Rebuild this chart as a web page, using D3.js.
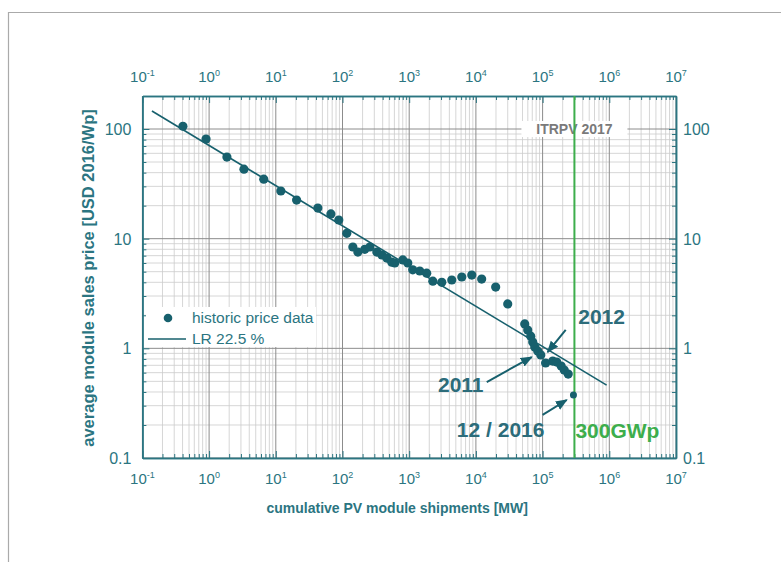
<!DOCTYPE html>
<html>
<head>
<meta charset="utf-8">
<script src="https://cdn.jsdelivr.net/npm/d3@7"></script>
<style>
  body { margin: 0; background: #fff; }
  svg { display: block; font-family: "Liberation Sans", Arial, sans-serif; }
</style>
</head>
<body>
<div id="chart"></div>
<script>
// historic price data (MW, USD 2016/Wp)
var shipments = [0.405, 0.9, 1.85, 3.33, 6.6, 11.9, 20.5, 42.7, 67, 88, 116, 143, 170, 216, 257, 327,
  389, 462, 548, 608, 802, 953, 1130, 1440, 1830, 2260, 3080, 4350, 6140, 8670, 12200, 19800,
  30000, 54000, 59800, 66400, 71100, 76200, 84500, 94000, 111000, 142000, 163000, 190000, 211000, 242000];
var prices = [106, 81, 55.5, 43, 34.9, 27.2, 22.5, 19.0, 16.8, 14.8, 11.2, 8.4, 7.55, 8.0, 8.4, 7.55,
  7.1, 6.65, 6.1, 6.0, 6.4, 6.0, 5.2, 5.07, 4.85, 4.1, 4.0, 4.2, 4.47, 4.66, 4.28, 3.62,
  2.54, 1.67, 1.47, 1.29, 1.14, 1.03, 0.945, 0.87, 0.735, 0.766, 0.75, 0.69, 0.634, 0.583];
var lastPoint = [290000, 0.375];

// learning rate line (two ends)
var lrX = [0.139, 912000];
var lrY = [146, 0.462];

var decadesX = [0.1, 1, 10, 100, 1000, 10000, 100000, 1000000, 10000000];
var exponentsX = ['-1', '0', '1', '2', '3', '4', '5', '6', '7'];
var ticksY = [0.1, 1, 10, 100];
var tickLabelsY = ['0.1', '1', '10', '100'];

var marker300 = 300000;

var notes = [
  { text: '2012', tx: 767000, ty: 1.93, x1: 222000, y1: 1.47, x2: 119000, y2: 0.925 },
  { text: '2011', tx: 5930, ty: 0.463, x1: 14550, y1: 0.493, x2: 68700, y2: 0.833 },
  { text: '12 / 2016', tx: 23500, ty: 0.18, x1: 100000, y1: 0.247, x2: 230000, y2: 0.338 }
];

var teal = '#2b7581',
    dotColor = '#17606d',
    green = '#3dae4c';

var width = 781, height = 562;
var pLeft = 142.4, pRight = 676, pTop = 96, pBottom = 458;

var svg = d3.select('#chart').append('svg')
  .attr('width', width)
  .attr('height', height);

// page frame
svg.append('line').attr('x1', 8.5).attr('x2', 8.5).attr('y1', 12).attr('y2', height)
  .attr('stroke', '#aaa').attr('stroke-width', 1.2);
svg.append('line').attr('x1', 8).attr('x2', width).attr('y1', 12.5).attr('y2', 12.5)
  .attr('stroke', '#aaa').attr('stroke-width', 1.2);

var x = d3.scaleLog().domain([0.1, 1e7]).range([pLeft, pRight]);
var y = d3.scaleLog().domain([0.1, 200]).range([pBottom, pTop]);

var minorX = [];
for (var e = -1; e < 7; e++) {
  for (var k = 2; k <= 9; k++) minorX.push(k * Math.pow(10, e));
}
var minorY = [];
for (var e2 = -1; e2 < 3; e2++) {
  for (var k2 = 2; k2 <= 9; k2++) {
    var v = k2 * Math.pow(10, e2);
    if (v < 200) minorY.push(v);
  }
}

var grid = svg.append('g');
grid.selectAll('.mx').data(minorX).enter().append('line')
  .attr('x1', function(d) { return x(d); }).attr('x2', function(d) { return x(d); })
  .attr('y1', pTop).attr('y2', pBottom)
  .attr('stroke', '#cccccc').attr('stroke-width', 0.8);
grid.selectAll('.my').data(minorY).enter().append('line')
  .attr('y1', function(d) { return y(d); }).attr('y2', function(d) { return y(d); })
  .attr('x1', pLeft).attr('x2', pRight)
  .attr('stroke', '#cccccc').attr('stroke-width', 0.8);
grid.selectAll('.Mx').data(decadesX).enter().append('line')
  .attr('x1', function(d) { return x(d); }).attr('x2', function(d) { return x(d); })
  .attr('y1', pTop).attr('y2', pBottom)
  .attr('stroke', '#8c8c8c').attr('stroke-width', 1);
grid.selectAll('.My').data(ticksY).enter().append('line')
  .attr('y1', function(d) { return y(d); }).attr('y2', function(d) { return y(d); })
  .attr('x1', pLeft).attr('x2', pRight)
  .attr('stroke', '#8c8c8c').attr('stroke-width', 1);

// axes, ticks pointing inwards
function styleAxis(g) {
  g.select('.domain').attr('stroke', teal).attr('stroke-width', 1.5);
  g.selectAll('.tick line').attr('stroke', teal).attr('stroke-width', 1);
  g.selectAll('.tick text').remove();
}
var sides = [
  { axis: d3.axisBottom(x), tr: 'translate(0,' + pBottom + ')', major: decadesX, minor: minorX },
  { axis: d3.axisTop(x), tr: 'translate(0,' + pTop + ')', major: decadesX, minor: minorX },
  { axis: d3.axisLeft(y), tr: 'translate(' + pLeft + ',0)', major: ticksY, minor: minorY },
  { axis: d3.axisRight(y), tr: 'translate(' + pRight + ',0)', major: ticksY, minor: minorY }
];
sides.forEach(function(s) {
  svg.append('g').attr('transform', s.tr)
    .call(s.axis.tickValues(s.minor).tickSize(-4).tickSizeOuter(0))
    .call(styleAxis);
  svg.append('g').attr('transform', s.tr)
    .call(s.axis.tickValues(s.major).tickSize(-7).tickSizeOuter(0))
    .call(styleAxis);
});

// x labels as powers of ten, top and bottom
[82, 484].forEach(function(base) {
  var t = svg.append('g').selectAll('text').data(decadesX).enter().append('text')
    .attr('x', function(d) { return x(d); })
    .attr('y', base)
    .attr('text-anchor', 'middle')
    .attr('fill', teal)
    .attr('font-size', 15);
  t.append('tspan').text('10');
  t.append('tspan').attr('dy', -6).attr('font-size', 9)
    .text(function(d, i) { return exponentsX[i]; });
});

svg.append('g').selectAll('text').data(ticksY).enter().append('text')
  .attr('x', pLeft - 11).attr('y', function(d) { return y(d) + 6; })
  .attr('text-anchor', 'end').attr('fill', teal).attr('font-size', 16)
  .text(function(d, i) { return tickLabelsY[i]; });
svg.append('g').selectAll('text').data(ticksY).enter().append('text')
  .attr('x', pRight + 7).attr('y', function(d) { return y(d) + 6; })
  .attr('text-anchor', 'start').attr('fill', teal).attr('font-size', 16)
  .text(function(d, i) { return tickLabelsY[i]; });

// axis titles
svg.append('text')
  .attr('x', (pLeft + pRight) / 2 - 12).attr('y', 513)
  .attr('text-anchor', 'middle').attr('fill', teal)
  .attr('font-size', 14).attr('font-weight', 'bold')
  .text('cumulative PV module shipments [MW]');
svg.append('text')
  .attr('transform', 'translate(94,' + 278 + ') rotate(-90)')
  .attr('text-anchor', 'middle').attr('fill', teal)
  .attr('font-size', 16.5).attr('font-weight', 'bold')
  .text('average module sales price [USD 2016/Wp]');

// ITRPV label on the 100 line
svg.append('rect')
  .attr('x', x(marker300) - 53).attr('y', y(100) - 8)
  .attr('width', 106).attr('height', 16).attr('fill', '#fff');
svg.append('text')
  .attr('x', x(marker300)).attr('y', y(100) + 5)
  .attr('text-anchor', 'middle').attr('fill', '#7a7a7a')
  .attr('font-size', 14).attr('font-weight', 'bold')
  .text('ITRPV 2017');

// legend
svg.append('rect').attr('x', 146).attr('y', 307).attr('width', 170).attr('height', 40).attr('fill', '#fff');
svg.append('circle').attr('cx', 168).attr('cy', 318).attr('r', 4.3).attr('fill', dotColor);
svg.append('text').attr('x', 192).attr('y', 323).attr('fill', teal).attr('font-size', 15.5)
  .text('historic price data');
svg.append('line').attr('x1', 148).attr('x2', 186).attr('y1', 339).attr('y2', 339)
  .attr('stroke', dotColor).attr('stroke-width', 1.6);
svg.append('text').attr('x', 192).attr('y', 344).attr('fill', teal).attr('font-size', 15.5)
  .text('LR 22.5 %');

// 300 GWp marker
svg.append('line')
  .attr('x1', x(marker300)).attr('x2', x(marker300))
  .attr('y1', pTop).attr('y2', pBottom)
  .attr('stroke', green).attr('stroke-width', 2);
svg.append('text')
  .attr('x', x(marker300) + 1).attr('y', 438)
  .attr('fill', green).attr('font-size', 21).attr('font-weight', 'bold')
  .text('300GWp');

// LR fit line
svg.append('line')
  .attr('x1', x(lrX[0])).attr('y1', y(lrY[0]))
  .attr('x2', x(lrX[1])).attr('y2', y(lrY[1]))
  .attr('stroke', dotColor).attr('stroke-width', 1.6);

// data points
svg.append('g').selectAll('circle').data(shipments).enter().append('circle')
  .attr('cx', function(d) { return x(d); })
  .attr('cy', function(d, i) { return y(prices[i]); })
  .attr('r', 4.6)
  .attr('fill', dotColor);
svg.append('circle').attr('cx', x(lastPoint[0])).attr('cy', y(lastPoint[1]))
  .attr('r', 3.5).attr('fill', dotColor);

// annotations with arrows
svg.append('defs').append('marker')
  .attr('id', 'arrow').attr('viewBox', '0 0 10 10')
  .attr('refX', 9).attr('refY', 5)
  .attr('markerWidth', 6).attr('markerHeight', 6)
  .attr('orient', 'auto')
  .append('path').attr('d', 'M0,1 L10,5 L0,9 z').attr('fill', dotColor);

var ann = svg.append('g').selectAll('g').data(notes).enter().append('g');
ann.append('line')
  .attr('x1', function(d) { return x(d.x1); }).attr('y1', function(d) { return y(d.y1); })
  .attr('x2', function(d) { return x(d.x2); }).attr('y2', function(d) { return y(d.y2); })
  .attr('stroke', dotColor).attr('stroke-width', 2)
  .attr('marker-end', 'url(#arrow)');
ann.append('text')
  .attr('x', function(d) { return x(d.tx); })
  .attr('y', function(d) { return y(d.ty) + 7; })
  .attr('text-anchor', 'middle')
  .attr('fill', '#2c6c7a').attr('font-size', 21).attr('font-weight', 'bold')
  .text(function(d) { return d.text; });
</script>
</body>
</html>
